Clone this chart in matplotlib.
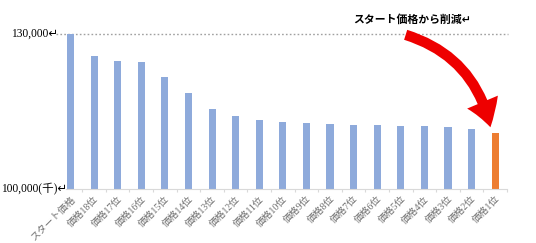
import matplotlib
matplotlib.use("Agg")
import matplotlib.pyplot as plt
from matplotlib.patches import FancyArrowPatch
import matplotlib.transforms as mtransforms

categories = ["スタート価格", "価格18位", "価格17位", "価格16位", "価格15位", "価格14位",
              "価格13位", "価格12位", "価格11位", "価格10位", "価格9位", "価格8位",
              "価格7位", "価格6位", "価格5位", "価格4位", "価格3位", "価格2位", "価格1位"]
values = [130000, 125800, 124800, 124600, 121700, 118600, 115500, 114100, 113400,
          112900, 112700, 112500, 112300, 112300, 112100, 112100, 112000, 111600, 110800]
ytick_values = [100000, 130000]
ytick_labels = ["100,000(千)↵", "130,000↵"]
title_text = "スタート価格から削減↵"

W, H = 536, 243
fig = plt.figure(figsize=(W / 100, H / 100), dpi=100)
ax = fig.add_axes([66 / W, 1 - 189 / H, (507 - 66) / W, (189 - 34) / H])

colors = ["#8eaadb"] * (len(values) - 1) + ["#ed7d31"]
x = list(range(len(categories)))
ax.bar(x, values, width=0.30, color=colors, zorder=2)
ax.set_ylim(100000, 130000)
ax.set_xlim(-0.19, 18.5)

for s in ["top", "right", "left"]:
    ax.spines[s].set_visible(False)
ax.spines["bottom"].set_color("#d9d9d9")
ax.spines["bottom"].set_linewidth(0.8)

# y labels placed manually at their values
ax.set_yticks([])
ylab_fam = ["Liberation Serif", "DejaVu Sans", "Noto Sans CJK JP"]
ylab_right_px = {130000: 58, 100000: 67}
for v, lab in zip(ytick_values, ytick_labels):
    tr = mtransforms.blended_transform_factory(fig.transFigure, ax.transData)
    ax.text(ylab_right_px[v] / W, v, lab, transform=tr, ha="right", va="center",
            family=ylab_fam, fontsize=8.3, color="black", clip_on=False)

ax.set_xticks(x)
ax.set_xticklabels(categories, rotation=45, ha="right", rotation_mode="anchor",
                   family=["Liberation Serif", "Noto Sans CJK JP", "DejaVu Sans"],
                   fontsize=7, color="#6e6e6e")
ax.tick_params(axis="x", which="major", length=0, pad=4)
ax.set_xticks([i + 0.5 for i in x], minor=True)
ax.tick_params(axis="x", which="minor", length=2.5, color="#d9d9d9", width=0.8)

# dotted gridline at top
ax.plot([(56 - 66) / (507 - 66), (508 - 66) / (507 - 66)], [1, 1], transform=ax.transAxes,
        color="#a0a0a0", linestyle=(0, (1.2, 1.6)), linewidth=1.0, clip_on=False, zorder=1)

fig.text(412 / W, 1 - 19 / H, title_text, ha="center", va="center", fontsize=7.8,
         fontweight="bold", family=["Noto Sans CJK JP", "DejaVu Sans"], color="black")

arrow = FancyArrowPatch((403 / W, 1 - 34 / H), (491 / W, 1 - 130 / H),
                        transform=fig.transFigure,
                        connectionstyle="arc3,rad=-0.3",
                        arrowstyle="simple,head_width=2.4,head_length=1.9,tail_width=0.75",
                        mutation_scale=10, color="#ee0000", lw=0, zorder=5)
fig.patches.append(arrow)

fig.savefig("out.png", dpi=100)
